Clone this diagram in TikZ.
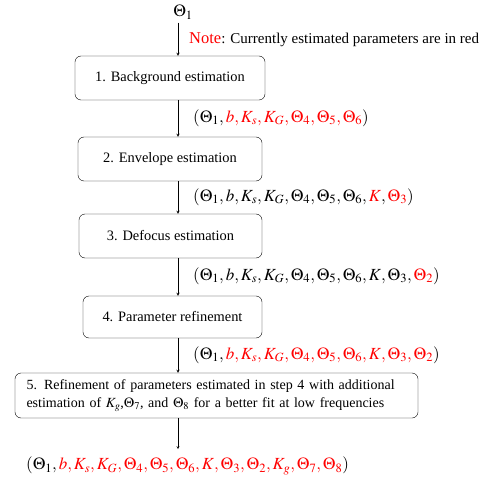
\documentclass[tikz,border=0pt]{standalone}
\usepackage{mathptmx}
\usepackage[no-math]{fontspec}
\setmainfont{Liberation Serif}
\newfontfamily\timesfont{Liberation Serif}
\usetikzlibrary{arrows}

\tikzset{
  stepbox/.style={draw, rounded corners=6pt, align=center, inner sep=2pt, minimum height=44pt},
  params/.style={anchor=west, inner sep=0pt, font=\timesfont\fontsize{17}{20}\selectfont}
}
\newcommand{\rd}[1]{{\color{red}#1}}

\begin{document}
\begin{tikzpicture}[x=1pt, y=-1pt, >=stealth, font=\timesfont\fontsize{14.4}{18}\selectfont]
			\useasboundingbox (0,0) rectangle (492,481);
			\coordinate (spine) at (178,0);
			\node[font=\fontsize{17}{20}\selectfont] (theta1) at (183,12) {$\Theta_1$};
			\node[anchor=west, inner sep=0pt, font=\timesfont\fontsize{15}{18}\selectfont] (note) at (189,40) {\rd{\fontsize{16.5}{18}\selectfont Note}: Currently estimated parameters are in red};
			\node[stepbox, minimum width=190pt] (box1) at (170,78) {1. Background estimation};
			\node[params] (p1) at (193,118) {$(\Theta_1,\rd{b,K_s,K_G,\Theta_4,\Theta_5,\Theta_6})$};
			\node[stepbox, minimum width=184pt] (box2) at (170,159) {2. Envelope estimation};
			\node[params] (p2) at (193,197) {$(\Theta_1,b,K_s,K_G,\Theta_4,\Theta_5,\Theta_6,\rd{K},\rd{\Theta_3})$};
			\node[stepbox, minimum width=183pt] (box3) at (170.5,236) {3. Defocus estimation};
			\node[params] (p3) at (193,276) {$(\Theta_1,b,K_s,K_G,\Theta_4,\Theta_5,\Theta_6,K,\Theta_3,\rd{\Theta_2})$};
			\node[stepbox, minimum width=179pt, minimum height=42pt] (box4) at (172.5,317) {4. Parameter refinement};
			\node[stepbox, minimum height=45pt, text width=380pt, inner xsep=11.5pt, align=left,
				font=\timesfont\fontsize{14}{18}\selectfont] (box5) at (216.5,395.5)
				{5. Refinement of parameters estimated in step 4 with additional\\estimation of $K_g$,$\Theta_7$, and $\Theta_8$ for a better fit at low frequencies};
			\node[params] (p4) at (193,355) {$(\Theta_1,\rd{b,K_s,K_G,\Theta_4,\Theta_5,\Theta_6,K,\Theta_3,\Theta_2})$};
			\node[params] (p5) at (26,466) {$(\Theta_1,\rd{b,K_s,K_G,\Theta_4,\Theta_5,\Theta_6,K,\Theta_3,\Theta_2,K_g,\Theta_7,\Theta_8})$};
			% flow arrows along one vertical line
			\draw[->] (theta1.south -| spine) -- (box1.north -| spine);
			\draw[->] (box1.south -| spine) -- (box2.north -| spine);
			\draw[->] (box2.south -| spine) -- (box3.north -| spine);
			\draw[->] (box3.south -| spine) -- (box4.north -| spine);
			\draw[->] (box4.south -| spine) -- (box5.north -| spine);
			\draw[->] (box5.south -| spine) -- ++(0,31);
		\end{tikzpicture}
\end{document}
